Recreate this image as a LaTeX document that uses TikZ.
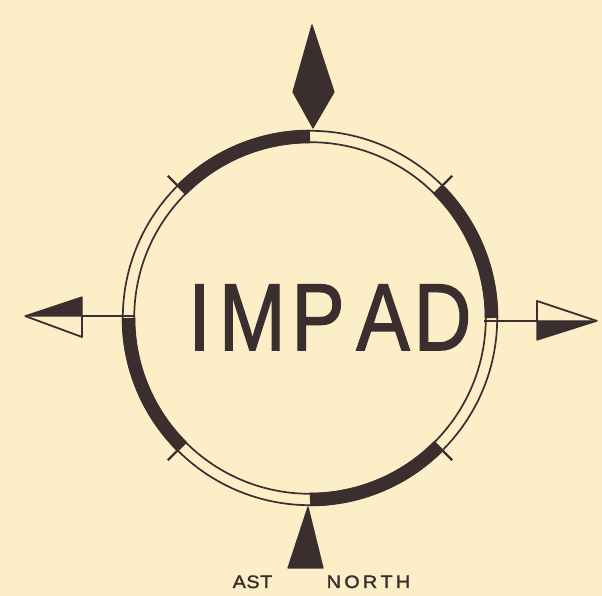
\documentclass[tikz,border=0pt]{standalone}
\usepackage{fontspec}
\setmainfont{Liberation Sans}
\newfontfamily\stencil[FakeBold=1.6]{Liberation Sans}
\definecolor{paper}{RGB}{252,239,199}
\definecolor{ink}{RGB}{58,46,46}

\begin{document}
\begin{tikzpicture}[
        x=1pt, y=1pt,
        band/.style={draw=ink, line width=13.5pt},
        rim/.style={draw=ink, line width=1.7pt},
        notch/.style={draw=ink, line width=2.2pt},
        shaft/.style={draw=ink, line width=1.8pt},
        headfill/.style={fill=ink, draw=ink, line width=1.2pt, line join=round},
        headline/.style={draw=ink, line width=1.8pt, line join=round},
        plate/.style={text=ink, inner sep=0pt, anchor=base, xscale=0.84,
            font=\stencil\fontsize{95}{95}\selectfont},
        note/.style={text=ink, inner sep=0pt, anchor=base, xscale=1.1,
            font=\stencil\fontsize{18}{18}\selectfont}
    ]
    \fill[paper] (0,0) rectangle (602,596);
    \useasboundingbox (0,0) rectangle (602,596);

    \coordinate (center) at (310,278);

    % double rim with four thick quarters
    \draw[rim] (center) circle[radius=187.2];
    \draw[rim] (center) circle[radius=175.8];
    \foreach \a in {0,90,180,270}{
        \draw[band] ([shift={(\a:181.5)}]center) arc[start angle=\a, end angle=\a+45, radius=181.5];
        \draw[notch] ([shift={(\a+45:175)}]center) -- ([shift={(\a+45:201)}]center);
    }

    \node[plate] (impad) at (330,246) {I\kern10pt M\kern7pt P\kern14pt A\kern5pt D};

    % north pointer and south wedge
    \coordinate (north) at (313,468);
    \fill[headfill] (north) -- (293,504) -- (312,571) -- (334,504) -- cycle;
    \coordinate (south) at (308,89);
    \fill[headfill] (south) -- (288,28) -- (323,28) -- cycle;

    % west arrow
    \coordinate (west) at (135,280);
    \coordinate (westback) at (82,280);
    \coordinate (westtip) at (25,280);
    \draw[shaft] (west) -- (westback);
    \filldraw[headfill] (westtip) -- (82,299) -- (westback) -- cycle;
    \draw[headline] (westtip) -- (82,259) -- (westback);

    % east arrow
    \coordinate (east) at (484,275);
    \coordinate (eastback) at (537,275);
    \coordinate (easttip) at (597,275);
    \draw[shaft] (east) -- (eastback);
    \filldraw[headfill] (easttip) -- (537,256) -- (eastback) -- cycle;
    \draw[headline] (easttip) -- (537,295) -- (eastback);

    \node[note] (ast) at (252.5,8) {A\kern0.5pt S\kern0.5pt T};
    \node[note] (northlabel) at (368.5,8) {N\kern3pt O\kern3pt R\kern3pt T\kern3pt H};
\end{tikzpicture}
\end{document}
